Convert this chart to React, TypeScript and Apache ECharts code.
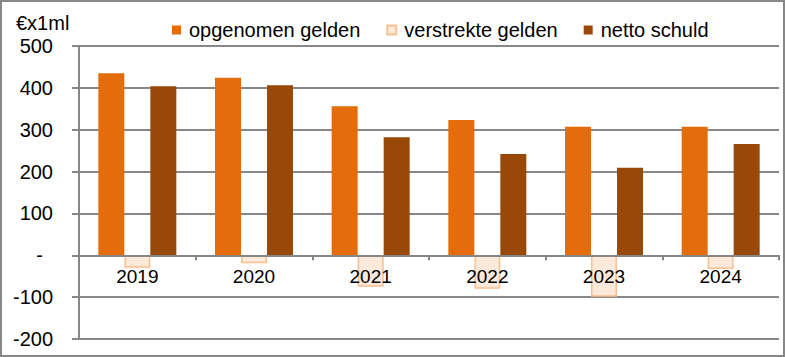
import React, { useEffect, useRef } from "react";
import * as echarts from "echarts";

const categories = ["2019", "2020", "2021", "2022", "2023", "2024"];
const opgenomen = [435, 424, 356, 323, 307, 307];
const verstrekt = [-30, -19, -75, -80, -99, -33];
const netto = [404, 406, 282, 242, 209, 266];
const yTicks = { min: -200, max: 500, interval: 100 };

const FONT = "'Liberation Sans', Arial, sans-serif";
const GRAY = "#878787";

const W = 785;
const H = 357;
const GRID = { left: 79, right: 6, top: 46, bottom: 18 };
const gridHeight = H - GRID.top - GRID.bottom;
// move the category axis up from the grid's bottom edge to the value 0
const zeroOffset = -(gridHeight * (0 - yTicks.min)) / (yTicks.max - yTicks.min);

export default function App() {
  const ref = useRef<HTMLDivElement>(null);
  useEffect(() => {
    if (!ref.current) return;
    const chart = echarts.init(ref.current, null, { renderer: "svg" });
    chart.setOption({
      animation: false,
      backgroundColor: "#ffffff",
      textStyle: { fontFamily: FONT },
      grid: {
        ...GRID,
        containLabel: false,
        outerBoundsMode: "none",
      },
      legend: {
        left: 172,
        top: 20,
        padding: 0,
        icon: "rect",
        itemWidth: 9,
        itemHeight: 9,
        itemGap: 26,
        textStyle: { fontSize: 20, color: "#000", fontFamily: FONT, padding: [0, 0, 0, 3] },
        data: ["opgenomen gelden", "verstrekte gelden", "netto schuld"],
      },
      graphic: [
        {
          type: "rect",
          shape: { x: 1, y: 1, width: W - 2, height: H - 2 },
          style: { fill: "none", stroke: GRAY, lineWidth: 2 },
          silent: true,
          z: 10,
        },
        {
          type: "text",
          left: 16,
          top: 13,
          style: { text: "€x1ml", fontSize: 20, fontFamily: FONT, fill: "#000" },
        },
      ],
      xAxis: {
        type: "category",
        data: categories,
        position: "bottom",
        offset: zeroOffset,
        z: 5,
        axisLine: {
          show: true,
          onZero: false,
          lineStyle: { color: GRAY, width: 2 },
        },
        axisTick: { show: true, length: 5, inside: false, lineStyle: { color: GRAY, width: 2 } },
        axisLabel: { fontSize: 19, color: "#000", margin: 12, fontFamily: FONT },
        splitLine: { show: false },
      },
      yAxis: {
        type: "value",
        min: yTicks.min,
        max: yTicks.max,
        interval: yTicks.interval,
        axisLine: { show: true, lineStyle: { color: GRAY, width: 2 } },
        axisTick: { show: true, length: 7, lineStyle: { color: GRAY, width: 2 } },
        axisLabel: {
          fontSize: 20,
          color: "#000",
          margin: 26,
          fontFamily: FONT,
          formatter: (v: number) => (v === 0 ? "{z|-}" : String(v)),
          rich: { z: { fontSize: 20, fontFamily: FONT, color: "#000", padding: [0, 10, 0, 0] } },
        },
        splitLine: { show: true, lineStyle: { color: GRAY, width: 2 } },
      },
      series: [
        {
          name: "opgenomen gelden",
          type: "bar",
          data: opgenomen,
          barWidth: 26,
          barGap: "0%",
          itemStyle: { color: "#E46C0A" },
        },
        {
          name: "verstrekte gelden",
          type: "bar",
          data: verstrekt,
          barWidth: 26,
          barGap: "0%",
          itemStyle: { color: "#FDE9D9", borderColor: "#FAC090", borderWidth: 1.5 },
        },
        {
          name: "netto schuld",
          type: "bar",
          data: netto,
          barWidth: 26,
          barGap: "0%",
          itemStyle: { color: "#984807" },
        },
      ],
    });
    return () => chart.dispose();
  }, []);
  return (
    <div
      ref={ref}
      style={{ position: "fixed", left: 0, top: 0, width: W, height: H }}
    />
  );
}
